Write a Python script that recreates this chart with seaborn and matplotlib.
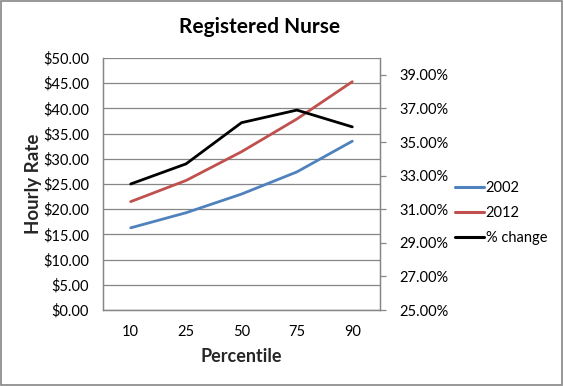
import numpy as np
import pandas as pd
import matplotlib
matplotlib.use('Agg')
import matplotlib.pyplot as plt
import seaborn as sns
from matplotlib.lines import Line2D
from matplotlib.patches import Rectangle
from matplotlib.ticker import FuncFormatter, MultipleLocator

# ---------------------------------------------------------------------------
# Data
# ---------------------------------------------------------------------------
percentiles = ['10', '25', '50', '75', '90']
rate_2002 = [16.3, 19.3, 23.0, 27.4, 33.5]
rate_2012 = [21.5, 25.7, 31.4, 37.9, 45.3]
pct_change = [32.5, 33.7, 36.15, 36.9, 35.9]

series_names = ['2002', '2012']
COLORS = {'2002': '#4F81BD', '2012': '#C0504D', '% change': '#000000'}

# ---------------------------------------------------------------------------
# Style
# ---------------------------------------------------------------------------
sns.set_style('white')
plt.rcParams['font.family'] = ['Lato', 'DejaVu Sans']
plt.rcParams['font.size'] = 10
plt.rcParams['text.color'] = '#000000'
plt.rcParams['xtick.color'] = '#000000'
plt.rcParams['ytick.color'] = '#000000'

GRID = '#868686'

df = pd.DataFrame({
    'Percentile': percentiles * 2,
    'rate': rate_2002 + rate_2012,
    'series': [series_names[0]] * len(percentiles) + [series_names[1]] * len(percentiles),
})

fig = plt.figure(figsize=(5.64, 3.86), dpi=100)
ax = fig.add_axes([103 / 564, 1 - 310 / 386, 277 / 564, 252 / 386])

sns.lineplot(data=df, x='Percentile', y='rate', hue='series', palette=COLORS,
             hue_order=series_names, linewidth=2.0, ax=ax, legend=False, sort=False)

ax2 = ax.twinx()
sns.lineplot(x=percentiles, y=pct_change, color=COLORS['% change'], linewidth=2.0,
             ax=ax2, sort=False)

# left axis
ax.set_ylim(0, 50)
ax.yaxis.set_major_locator(MultipleLocator(5))
ax.yaxis.set_major_formatter(FuncFormatter(lambda v, p: f'${v:.2f}'))
ax.set_xlim(-0.5, 4.5)
ax.grid(axis='y', color=GRID, linewidth=0.9)
ax.set_axisbelow(True)
ax.tick_params(axis='y', length=0, pad=10, labelsize=10.5)
ax.tick_params(axis='x', length=0, pad=11, labelsize=10.5)
ax.set_ylabel('Hourly Rate', fontweight='bold', fontsize=13.5, labelpad=1)
ax.set_xlabel('Percentile', fontweight='bold', fontsize=13, labelpad=6)

# right axis
ax2.set_ylim(25, 40)
ax2.set_yticks(np.arange(25, 40, 2))
ax2.yaxis.set_major_formatter(FuncFormatter(lambda v, p: f'{v:.2f}%'))
ax2.tick_params(axis='y', direction='out', length=4, width=0.9, color=GRID,
                pad=10, labelsize=10.5, labelcolor='#000000')
ax2.set_ylabel('')

for a in (ax, ax2):
    a.spines['top'].set_visible(False)
    for s in ('left', 'bottom', 'right'):
        a.spines[s].set_color(GRID)
        a.spines[s].set_linewidth(0.9)

fig.suptitle('Registered Nurse', x=260 / 564, y=1 - 27 / 386, va='center',
             fontweight='bold', fontsize=15)

handles = [Line2D([0], [0], color=COLORS[k], linewidth=2.2) for k in ['2002', '2012', '% change']]
fig.legend(handles, ['2002', '2012', '% change'], loc='center left',
           bbox_to_anchor=(455 / 564, 1 - 213 / 386), frameon=False,
           handlelength=2.0, handletextpad=0.1, labelspacing=0.75, fontsize=10.5,
           borderaxespad=0, borderpad=0)

# outer chart border
fig.patches.append(Rectangle((0.002, 0.003), 0.995, 0.994, transform=fig.transFigure,
                             fill=False, edgecolor='#868686', linewidth=1.2))

fig.savefig('out.png', dpi=100, facecolor='white')
